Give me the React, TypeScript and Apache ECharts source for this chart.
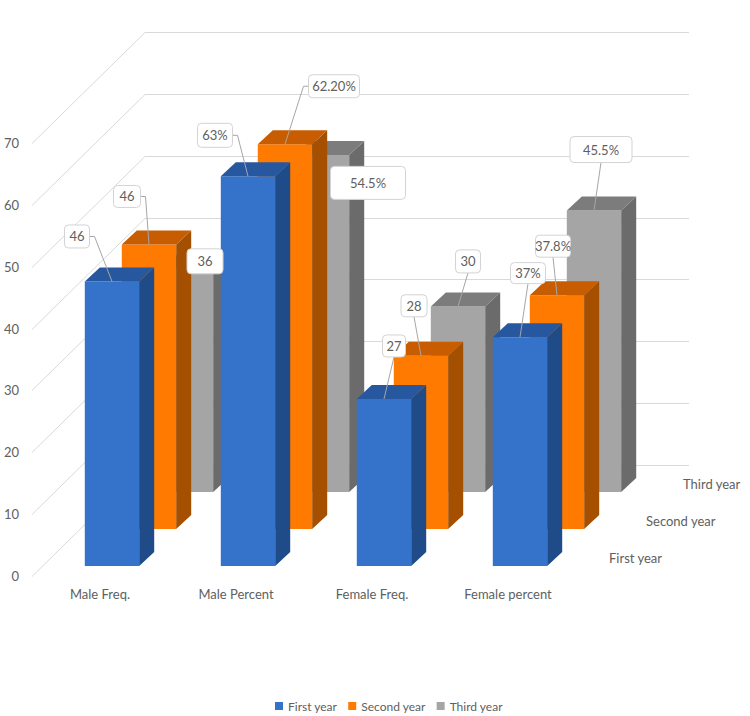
import React, { useEffect, useRef } from "react";
import * as echarts from "echarts";

// ---- data ----
const categories = ["Male Freq.", "Male Percent", "Female Freq.", "Female percent"];
const seriesNames = ["First year", "Second year", "Third year"];
const firstYear = [46, 63, 27, 37];
const secondYear = [46, 62.2, 28, 37.8];
const thirdYear = [36, 54.5, 30, 45.5];
const firstYearLabels = ["46", "63%", "27", "37%"];
const secondYearLabels = ["46", "62.20%", "28", "37.8%"];
const thirdYearLabels = ["36", "54.5%", "30", "45.5%"];
const yTicks = [0, 10, 20, 30, 40, 50, 60, 70];

// ---- layout / style ----
const FONT = "Lato, 'Open Sans', sans-serif";
const FONT_SIZE = 13;
const TEXT_COLOR = "#606060";
const DEPTH_X = 113;
const DEPTH_Y = 111;
const ROW_OX = [12, 49, 86];
const ROW_OY = [10, 47, 84];
const BAR_DX = 15;
const BAR_DY = 14;
const faceColors = [
  { front: "#3473C9", side: "#1F4B88", top: "#27589F" },
  { front: "#FF7A00", side: "#A54F00", top: "#C75D00" },
  { front: "#A5A5A5", side: "#6B6B6B", top: "#7C7C7C" },
];
// [dx, dy, w, h] of label box centre relative to the bar's front-top centre
const labelLayout = [
  [[-35, -45, 25, 23], [-33, -41, 35, 24], [10, -53, 23, 22], [8, -64, 35, 21]],
  [[-22, -48, 27, 22], [49, -58, 51, 23], [-7, -50, 26, 22], [-4, -49, 35, 22]],
  [[19, -8, 36, 25], [46, 28, 75, 33], [10, -45, 25, 23], [7, -61, 62, 26]],
];

const seriesValues = [firstYear, secondYear, thirdYear];
const seriesLabels = [firstYearLabels, secondYearLabels, thirdYearLabels];

function barRender(s: number) {
  return (params: any, api: any) => {
    const cat = api.value(0);
    const v = api.value(1);
    const top = api.coord([cat, v]);
    const base = api.coord([cat, 0]);
    const w = api.size([1, 0])[0] * 0.4;
    const xl = top[0] - w / 2 + ROW_OX[s];
    const xr = xl + w;
    const yt = top[1] - ROW_OY[s];
    const yb = base[1] - ROW_OY[s];
    const c = faceColors[s];
    return {
      type: "group",
      children: [
        { type: "rect", shape: { x: xl, y: yt, width: w, height: yb - yt }, style: { fill: c.front } },
        {
          type: "polygon",
          shape: { points: [[xr, yt], [xr + BAR_DX, yt - BAR_DY], [xr + BAR_DX, yb - BAR_DY], [xr, yb]] },
          style: { fill: c.side },
        },
        {
          type: "polygon",
          shape: { points: [[xl, yt], [xr, yt], [xr + BAR_DX, yt - BAR_DY], [xl + BAR_DX, yt - BAR_DY]] },
          style: { fill: c.top },
        },
      ],
    };
  };
}

function labelRender(params: any, api: any) {
  const cat = api.value(0);
  const v = api.value(1);
  const s = api.value(2);
  const top = api.coord([cat, v]);
  const tx = top[0] + ROW_OX[s];
  const ty = top[1] - ROW_OY[s];
  const [dx, dy, w, h] = labelLayout[s][cat];
  const cx = tx + dx;
  const cy = ty + dy;
  const left = cx - w / 2;
  const right = cx + w / 2;
  const topY = cy - h / 2;
  const bottom = cy + h / 2;
  const children: any[] = [];
  const distX = tx < left ? left - tx : tx > right ? tx - right : 0;
  const distY = ty < topY ? topY - ty : ty > bottom ? ty - bottom : 0;
  if (Math.hypot(distX, distY) > 20) {
    let pts: number[][];
    if (tx > right + 3) pts = [[right, cy], [right + 5, cy], [tx, ty]];
    else if (tx < left - 3) pts = [[left, cy], [left - 5, cy], [tx, ty]];
    else pts = [[cx, bottom], [tx, ty]];
    children.push({
      type: "polyline",
      shape: { points: pts },
      style: { stroke: "#A6A6A6", lineWidth: 1, fill: "none" },
    });
  }
  children.push({
    type: "rect",
    shape: { x: left, y: topY, width: w, height: h, r: 4 },
    style: { fill: "#FFFFFF", stroke: "#D3D3D3", lineWidth: 1 },
  });
  children.push({
    type: "text",
    x: cx,
    y: cy,
    style: {
      text: seriesLabels[s][cat],
      fill: TEXT_COLOR,
      fontSize: FONT_SIZE,
      fontFamily: FONT,
      align: "center",
      verticalAlign: "middle",
    },
  });
  return { type: "group", children };
}

function gridRender(params: any, api: any) {
  const v = api.value(1);
  const p = api.coord([0, v]);
  const x0 = params.coordSys.x;
  const x1 = params.coordSys.x + params.coordSys.width;
  const y = Math.round(p[1]) + 0.5;
  return {
    type: "polyline",
    shape: { points: [[x0, y], [x0 + DEPTH_X, y - DEPTH_Y], [x1 + DEPTH_X, y - DEPTH_Y]] },
    style: { stroke: "#D9D9D9", lineWidth: 1, fill: "none" },
  };
}

function depthLabelRender(params: any, api: any) {
  const s = api.value(2);
  const base = api.coord([0, 0]);
  const xR = params.coordSys.x + params.coordSys.width;
  return {
    type: "text",
    x: xR + ROW_OX[s] + 21,
    y: base[1] - ROW_OY[s] - 8,
    style: {
      text: seriesNames[s],
      fill: TEXT_COLOR,
      fontSize: FONT_SIZE,
      fontFamily: FONT,
      align: "left",
      verticalAlign: "middle",
    },
  };
}

export default function App() {
  const ref = useRef<HTMLDivElement>(null);
  useEffect(() => {
    document.body.style.margin = "0";
    const chart = echarts.init(ref.current!, null, { renderer: "svg" });
    const barSeries = [2, 1, 0].map((s) => ({
      type: "custom",
      name: seriesNames[s],
      z: 4 - s,
      clip: false,
      itemStyle: { color: faceColors[s].front },
      renderItem: barRender(s),
      encode: { x: 0, y: 1 },
      data: seriesValues[s].map((v, i) => [i, v]),
    }));
    const labelData: number[][] = [];
    [2, 1, 0].forEach((s) => seriesValues[s].forEach((v, i) => labelData.push([i, v, s])));
    chart.setOption({
      animation: false,
      textStyle: { fontFamily: FONT },
      grid: { left: 32, top: 143, width: 544, height: 433 },
      legend: {
        data: seriesNames,
        left: 270,
        top: 695,
        icon: "rect",
        itemWidth: 8,
        itemHeight: 8,
        itemGap: 11,
        textStyle: { color: TEXT_COLOR, fontSize: 12, fontFamily: FONT },
      },
      xAxis: {
        type: "category",
        data: categories,
        axisLine: { show: false },
        axisTick: { show: false },
        axisLabel: { color: TEXT_COLOR, fontSize: FONT_SIZE, margin: 11, fontFamily: FONT },
        splitLine: { show: false },
      },
      yAxis: {
        type: "value",
        min: 0,
        max: 70,
        interval: 10,
        axisLine: { show: false },
        axisTick: { show: false },
        splitLine: { show: false },
        axisLabel: { color: TEXT_COLOR, fontSize: FONT_SIZE, margin: 13, fontFamily: FONT },
      },
      series: [
        {
          type: "custom",
          name: "grid",
          z: 1,
          clip: false,
          renderItem: gridRender,
          encode: { x: 0, y: 1 },
          data: yTicks.map((v) => [0, v]),
          silent: true,
        },
        ...barSeries,
        {
          type: "custom",
          name: "labels",
          z: 8,
          clip: false,
          renderItem: labelRender,
          encode: { x: 0, y: 1 },
          data: labelData,
        },
        {
          type: "custom",
          name: "depth",
          z: 8,
          clip: false,
          renderItem: depthLabelRender,
          encode: { x: 0, y: 1 },
          data: [0, 1, 2].map((s) => [0, 0, s]),
        },
      ],
    });
    return () => chart.dispose();
  }, []);
  return <div ref={ref} style={{ width: 750, height: 716 }} />;
}
